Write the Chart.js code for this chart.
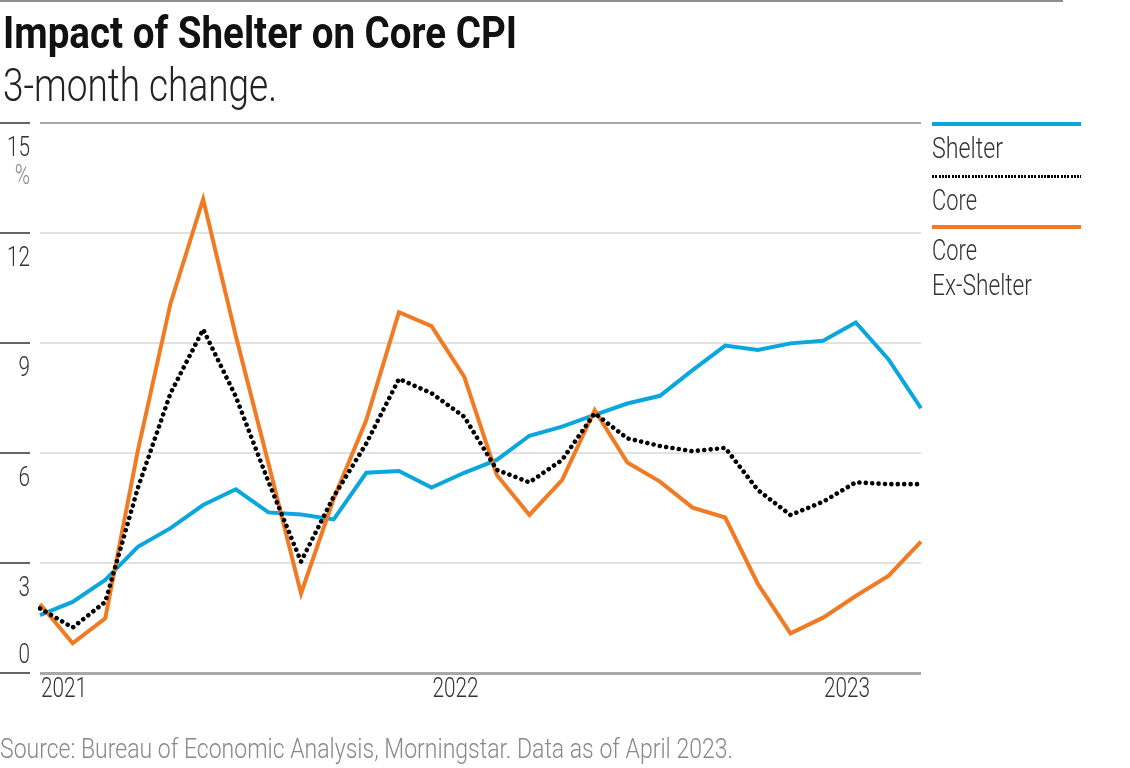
<!DOCTYPE html>
<html><head><meta charset="utf-8">
<script src="https://cdn.jsdelivr.net/npm/chart.js@4.4.0/dist/chart.umd.min.js"></script>
<style>
html,body{margin:0;padding:0;background:#fff;width:1130px;height:768px;overflow:hidden;font-family:Roboto,"Liberation Sans",sans-serif;}
#c{position:absolute;left:0;top:0;}
.t{position:absolute;white-space:nowrap;transform-origin:0 0;line-height:1;display:inline-block;}
#rule{position:absolute;left:0;top:0;width:1063px;height:2px;background:#8e8e8e;}
#title{left:3px;top:11px;font-size:44.5px;font-weight:700;color:#111;}
#sub{left:3px;top:62px;font-size:46px;font-weight:300;color:#222;}
#src{left:0px;top:736px;font-size:27px;font-weight:300;color:#888;}
.lg{position:absolute;left:932px;width:149px;}
.lgt{font-size:29px;font-weight:300;color:#333;}
</style></head>
<body>
<div id="rule"></div>
<canvas id="c" width="1130" height="768"></canvas>
<div class="t" id="title">Impact of Shelter on Core CPI</div>
<div class="t" id="sub">3-month change.</div>
<div class="t" id="src">Source: Bureau of Economic Analysis, Morningstar. Data as of April 2023.</div>
<div id="legend"></div>
<script>
// ---- data ----
const months = ['2021-01','2021-02','2021-03','2021-04','2021-05','2021-06','2021-07','2021-08','2021-09','2021-10','2021-11','2021-12',
                '2022-01','2022-02','2022-03','2022-04','2022-05','2022-06','2022-07','2022-08','2022-09','2022-10','2022-11','2022-12',
                '2023-01','2023-02','2023-03','2023-04'];
const shelter = [1.58,1.94,2.54,3.44,3.95,4.58,5.01,4.38,4.32,4.19,5.46,5.51,5.06,5.46,5.81,6.47,6.72,7.04,7.35,7.56,8.26,8.93,8.81,8.99,9.06,9.56,8.56,7.22];
const core = [1.76,1.24,1.94,5.05,7.63,9.37,7.54,5.22,3.04,4.81,6.26,8.02,7.63,6.99,5.54,5.20,5.81,7.08,6.40,6.19,6.05,6.14,4.99,4.31,4.67,5.20,5.15,5.15];
const coreExShelter = [1.88,0.81,1.49,6.07,10.08,12.92,9.20,5.72,2.17,4.75,6.90,9.84,9.46,8.08,5.40,4.31,5.26,7.17,5.74,5.22,4.51,4.24,2.43,1.08,1.51,2.10,2.65,3.58];
const yTicks = [0,3,6,9,12,15];
const seriesNames = ['Shelter','Core','Core\nEx-Shelter'];
const yUnit = '%';

const BLUE = '#0aa6dd', ORANGE = '#f07b22', BLACK = '#000';
const FONT = 'Roboto, "Liberation Sans", sans-serif';

const axisPlugin = {
  id: 'axisLabels',
  afterDraw(chart) {
    const ctx = chart.ctx, ys = chart.scales.y, xs = chart.scales.x, ca = chart.chartArea;
    ctx.save();
    ctx.font = '300 28px ' + FONT;
    const sx = 11.5 / ctx.measureText('0').width;
    const txt = (t, x, y, align, color) => {
      ctx.save(); ctx.translate(x, y); ctx.scale(sx, 1);
      ctx.textAlign = align; ctx.textBaseline = 'alphabetic'; ctx.fillStyle = color;
      ctx.fillText(t, 0, 0); ctx.restore();
    };
    yTicks.forEach(v => {
      const y = Math.round(ys.getPixelForValue(v));
      ctx.fillStyle = '#666';
      ctx.fillRect(0, y - 1, 30, 2);
      const by = v === 0 ? y - 10 : y + 33;
      txt(String(v), 30, by, 'right', '#333');
      if (v === ys.max) txt(yUnit, 30, by + 28, 'right', '#888');
    });
    months.forEach((m, i) => {
      if (m.endsWith('-01')) {
        const x = xs.getPixelForValue(i);
        txt(m.slice(0, 4), x + 1, ca.bottom + 24, 'left', '#333');
      }
    });
    ctx.restore();
  }
};

new Chart(document.getElementById('c'), {
  type: 'line',
  data: {
    labels: months,
    datasets: [
      { label: seriesNames[0], data: shelter, borderColor: BLUE, borderWidth: 4, order: 2 },
      { label: seriesNames[1], data: core, borderColor: BLACK, borderWidth: 4.6, borderDash: [0.01, 6.4], borderCapStyle: 'round', order: 0 },
      { label: seriesNames[2], data: coreExShelter, borderColor: ORANGE, borderWidth: 4, order: 1 }
    ]
  },
  options: {
    responsive: false, animation: false, devicePixelRatio: 1,
    layout: { padding: { left: 40, right: 209, top: 123, bottom: 95 } },
    elements: { point: { radius: 0 }, line: { tension: 0, borderJoinStyle: 'miter' } },
    plugins: { legend: { display: false }, tooltip: { enabled: false } },
    scales: {
      x: { type: 'category', display: false, offset: false },
      y: { min: 0, max: 15, ticks: { display: false, stepSize: 3 }, border: { display: false },
           grid: { drawTicks: false,
                   color: c => (c.tick.value === 0 || c.tick.value === 15) ? '#a8a8a8' : '#e2e2e2',
                   lineWidth: c => c.tick.value === 0 ? 3 : 2 } }
    }
  },
  plugins: [axisPlugin]
});

// legend (HTML) built from series
const lg = document.getElementById('legend');
const lgLines = [
  { top: 122, h: 4, bg: BLUE },
  { top: 175, h: 3, bg: 'repeating-linear-gradient(to right,#000 0 2px,transparent 2px 3.3px)' },
  { top: 225, h: 4, bg: ORANGE }
];
const lgTexts = [134, 186, 236];
seriesNames.forEach((n, i) => {
  const l = document.createElement('div');
  l.className = 'lg'; l.style.top = lgLines[i].top + 'px'; l.style.height = lgLines[i].h + 'px'; l.style.background = lgLines[i].bg;
  lg.appendChild(l);
  n.split('\n').forEach((line, k) => {
    const t = document.createElement('div');
    t.className = 't lgt'; t.textContent = line;
    t.style.left = '932px'; t.style.top = (lgTexts[i] + k * 35) + 'px';
    t.dataset.fit = 'legend';
    lg.appendChild(t);
  });
});

function fit(el, w) { const s = w / el.getBoundingClientRect().width; el.style.transform = 'scaleX(' + s + ')'; }
fit(document.getElementById('title'), 514);
fit(document.getElementById('sub'), 274);
fit(document.getElementById('src'), 733);
document.querySelectorAll('[data-fit=legend]').forEach(el => {
  const target = { 'Shelter': 71, 'Core': 45, 'Ex-Shelter': 100 }[el.textContent];
  fit(el, target);
});
</script>
</body></html>
